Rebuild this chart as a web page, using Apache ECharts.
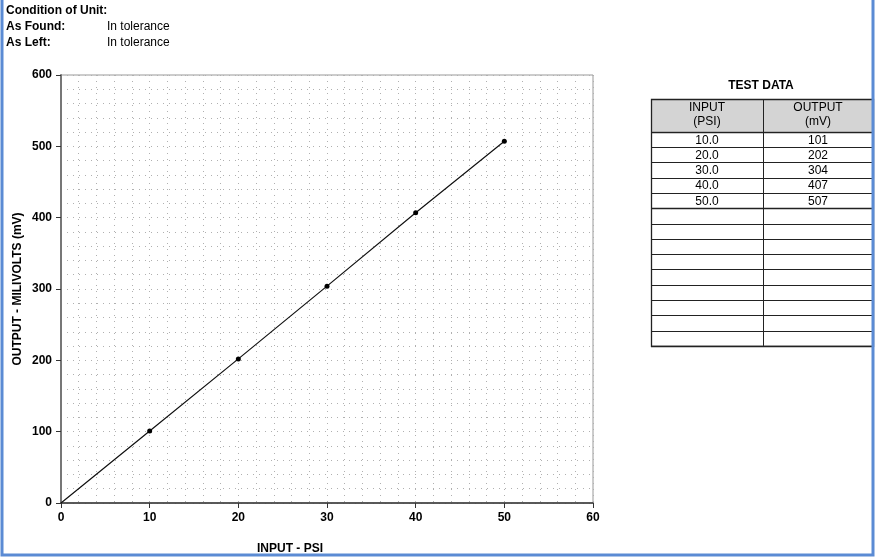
<!DOCTYPE html>
<html>
<head>
<meta charset="utf-8">
<script src="https://cdn.jsdelivr.net/npm/echarts@6/dist/echarts.min.js"></script>
<style>
  html, body { margin: 0; padding: 0; background: #fff; }
  #chart { width: 876px; height: 559px; }
</style>
</head>
<body>
<div id="chart"></div>
<script>
// ---- data ----
const inputPsi = [10, 20, 30, 40, 50];
const outputMv = [101, 202, 304, 407, 507];
const xTicks = [0, 10, 20, 30, 40, 50, 60];
const yTicks = [0, 100, 200, 300, 400, 500, 600];
const headerLines = ["Condition of Unit:", "As Found:", "As Left:"];
const headerValues = ["", "In tolerance", "In tolerance"];
const tableTitle = "TEST DATA";
const tableHeads = [["INPUT", "(PSI)"], ["OUTPUT", "(mV)"]];
const emptyRows = 9;

const FONT = 'Arial, "Liberation Sans", sans-serif';
const chart = echarts.init(document.getElementById('chart'), null, { renderer: 'canvas' });

// ---- table built from data ----
const tX0 = 651, tX1 = 763, tX2 = 873;
const tTop = 99, tHeadBot = 131.7, rowH = 15.3;
const nRows = inputPsi.length + emptyRows;
const tBot = tHeadBot + nRows * rowH;
const g = [];
headerLines.forEach((t, i) => {
  g.push({ type: 'text', left: 6, top: 5 + i * 16, style: { text: t, font: 'bold 12px ' + FONT, fill: '#000' } });
  if (headerValues[i]) g.push({ type: 'text', left: 107, top: 5 + i * 16, style: { text: headerValues[i], font: '12px ' + FONT, fill: '#000' } });
});
g.push({ type: 'text', x: (tX0 + tX2) / 2 - 1, y: 80, style: { text: tableTitle, font: 'bold 12px ' + FONT, fill: '#000', align: 'center' } });
g.push({ type: 'rect', shape: { x: tX0, y: tTop, width: tX2 - tX0, height: tHeadBot - tTop }, style: { fill: '#d4d4d4', stroke: null } });
tableHeads.forEach((h, c) => {
  const cx = c === 0 ? (tX0 + tX1) / 2 : (tX1 + tX2) / 2;
  g.push({ type: 'text', x: cx, y: tTop + 2, style: { text: h[0] + '\n' + h[1], font: '12px ' + FONT, fill: '#000', align: 'center', lineHeight: 14 } });
});
for (let r = 0; r < inputPsi.length; r++) {
  const y = tHeadBot + r * rowH + 2.5;
  g.push({ type: 'text', x: (tX0 + tX1) / 2, y: y, style: { text: inputPsi[r].toFixed(1), font: '12px ' + FONT, fill: '#000', align: 'center' } });
  g.push({ type: 'text', x: (tX1 + tX2) / 2, y: y, style: { text: String(outputMv[r]), font: '12px ' + FONT, fill: '#000', align: 'center' } });
}
for (let r = 0; r <= nRows; r++) {
  const y = Math.round(tHeadBot + r * rowH) + 0.5;
  g.push({ type: 'line', shape: { x1: tX0, y1: y, x2: tX2, y2: y }, style: { stroke: '#222', lineWidth: (r === 0 || r === inputPsi.length || r === nRows) ? 1.6 : 1 } });
}
g.push({ type: 'rect', shape: { x: tX0 + 0.5, y: tTop + 0.5, width: tX2 - tX0, height: tBot - tTop }, style: { fill: null, stroke: '#222', lineWidth: 1.3 } });
g.push({ type: 'line', shape: { x1: tX1 + 0.5, y1: tTop, x2: tX1 + 0.5, y2: tBot }, style: { stroke: '#222', lineWidth: 1 } });
g.push({ type: 'polyline', shape: { points: [[2, 0], [2, 555], [873, 555], [873, 0]] }, style: { fill: null, stroke: '#5b8bd4', lineWidth: 3 }, z: 100 });

const lineData = [{ value: [0, 0], symbol: 'none' }].concat(inputPsi.map((x, i) => [x, outputMv[i]]));
const gridLine = { color: '#b0b0b0', type: [1, 5], width: 1 };

const option = {
  animation: false,
  backgroundColor: '#fff',
  grid: { left: 61, right: 283, top: 75, bottom: 56, show: true, borderColor: '#999', borderWidth: 1, containLabel: false, outerBoundsMode: 'none' },
  xAxis: {
    type: 'value', min: xTicks[0], max: xTicks[xTicks.length - 1], interval: 10,
    name: 'INPUT - PSI', nameLocation: 'middle', nameGap: 40,
    nameTextStyle: { fontFamily: FONT, fontWeight: 'bold', fontSize: 12, color: '#000', padding: [0, 74, 0, 0] },
    axisLine: { show: true, lineStyle: { color: '#333', width: 1.5 } },
    axisTick: { show: true, length: 5, lineStyle: { color: '#333' } },
    axisLabel: { fontFamily: FONT, fontWeight: 'bold', fontSize: 12, color: '#000', margin: 9 },
    splitLine: { show: true, lineStyle: gridLine },
    minorTick: { show: true, splitNumber: 5, length: 0 },
    minorSplitLine: { show: true, lineStyle: gridLine }
  },
  yAxis: {
    type: 'value', min: yTicks[0], max: yTicks[yTicks.length - 1], interval: 100,
    name: 'OUTPUT - MILIVOLTS (mV)', nameLocation: 'middle', nameGap: 37, nameMoveOverlap: false,
    nameTextStyle: { fontFamily: FONT, fontWeight: 'bold', fontSize: 12, color: '#000' },
    axisLine: { show: true, lineStyle: { color: '#777', width: 2 } },
    axisTick: { show: true, length: 5, lineStyle: { color: '#333' } },
    axisLabel: { fontFamily: FONT, fontWeight: 'bold', fontSize: 12, color: '#000', margin: 9 },
    splitLine: { show: true, lineStyle: gridLine },
    minorTick: { show: true, splitNumber: 5, length: 0 },
    minorSplitLine: { show: true, lineStyle: gridLine }
  },
  series: [{
    type: 'line',
    data: lineData,
    symbol: 'circle', symbolSize: 5,
    lineStyle: { color: '#111', width: 1.2 },
    itemStyle: { color: '#000' },
    z: 5
  }],
  graphic: g
};
chart.setOption(option);
</script>
</body>
</html>
